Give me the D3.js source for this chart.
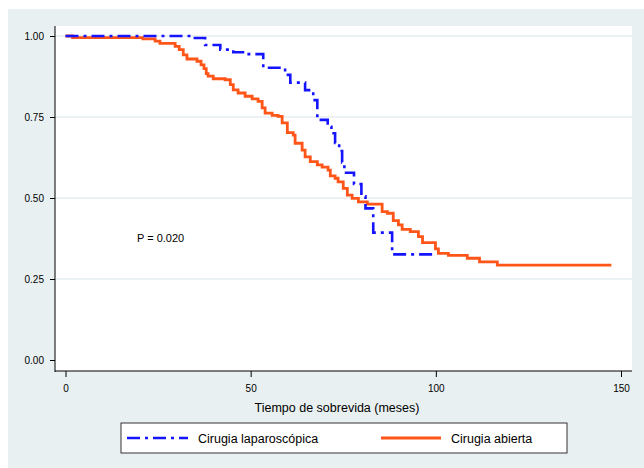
<!DOCTYPE html>
<html>
<head>
<meta charset="utf-8">
<script src="https://cdn.jsdelivr.net/npm/d3@7"></script>
<style>
  body { margin: 0; background: #fff; }
  text { font-family: "Liberation Sans", Arial, sans-serif; fill: #000; }
</style>
</head>
<body>
<svg id="chart" width="644" height="468"></svg>
<script>
// Kaplan-Meier curves (time in months, survival)
var lapTimes = [0, 34.5, 37.7, 41.8, 45.3, 49.1, 53.4, 59.3, 60.7, 64.7, 66.9, 68.0, 70.8, 71.8, 72.8, 73.9, 74.7, 75.3, 77.9, 79.9, 81.0, 83.1, 88.2, 100.0];
var lapSurv  = [1.0, 0.994, 0.972, 0.958, 0.950, 0.944, 0.902, 0.880, 0.856, 0.833, 0.802, 0.741, 0.72, 0.70, 0.67, 0.645, 0.61, 0.578, 0.543, 0.505, 0.468, 0.393, 0.326, 0.326];

var openTimes = [0, 1.9, 20.9, 24.2, 25.5, 29.6, 30.7, 31.8, 32.8, 35.5, 36.6, 37.4, 38.0, 38.5, 39.9, 43.1, 44.5, 45.3, 46.6, 48.5, 50.4, 52.0, 53.1, 53.9, 55.8, 57.4, 58.5, 59.9, 61.5, 62.0, 63.9, 64.7, 66.1, 68.0, 69.3, 70.9, 71.5, 72.8, 73.6, 75.0, 76.1, 77.4, 79.1, 81.5, 85.5, 86.9, 88.5, 89.9, 90.9, 93.1, 95.3, 96.4, 99.9, 100.7, 103.4, 108.5, 111.8, 116.6, 147.4];
var openSurv  = [1.0, 0.995, 0.991, 0.984, 0.977, 0.968, 0.958, 0.942, 0.929, 0.922, 0.911, 0.899, 0.884, 0.876, 0.868, 0.865, 0.850, 0.834, 0.824, 0.814, 0.806, 0.798, 0.778, 0.762, 0.755, 0.752, 0.732, 0.702, 0.694, 0.669, 0.648, 0.627, 0.612, 0.602, 0.595, 0.586, 0.568, 0.561, 0.550, 0.530, 0.509, 0.499, 0.488, 0.481, 0.458, 0.453, 0.430, 0.417, 0.403, 0.396, 0.381, 0.362, 0.343, 0.329, 0.323, 0.314, 0.303, 0.293, 0.293];

var xTicks = [0, 50, 100, 150];
var yTicks = [0, 0.25, 0.5, 0.75, 1];
var gridVals = [0.25, 0.5, 0.75, 1];
var seriesNames = ["Cirugia laparosc\u00f3pica", "Cirugia abierta"];
var pLabel = "P = 0.020";

var blue = "#1414ff", orange = "#ff5519";

var svg = d3.select("#chart");

// outer gray panel
svg.append("rect").attr("x", 8).attr("y", 9).attr("width", 636).attr("height", 459)
    .attr("fill", "#e9f0f1");

// plot region (note: "top" is reserved on window)
var pLeft = 55, pRight = 632, pTop = 26, pBottom = 371;
svg.append("rect").attr("x", pLeft).attr("y", pTop)
    .attr("width", pRight - pLeft).attr("height", pBottom - pTop)
    .attr("fill", "#fff");

var x = d3.scaleLinear().domain([0, 150]).range([65.5, 621]);
var y = d3.scaleLinear().domain([0, 1]).range([360, 36]);

//gridlines
svg.append("g").selectAll("line")
    .data(gridVals).enter().append("line")
    .attr("x1", pLeft + 1).attr("x2", pRight)
    .attr("y1", function(d) { return y(d); })
    .attr("y2", function(d) { return y(d); })
    .attr("stroke", "#e6eef0").attr("stroke-width", 1.6);

// y axis
var yAxis = svg.append("g").attr("transform", "translate(" + pLeft + ",0)")
    .call(d3.axisLeft(y).tickValues(yTicks).tickSize(5).tickPadding(6)
        .tickFormat(d3.format(".2f")));
yAxis.select(".domain").remove();
yAxis.append("line").attr("x1", 0).attr("x2", 0).attr("y1", pTop).attr("y2", pBottom + 1)
    .attr("stroke", "#000");
yAxis.selectAll("text").attr("font-size", 10);

// x axis
var xAxis = svg.append("g").attr("transform", "translate(0," + pBottom + ")")
    .call(d3.axisBottom(x).tickValues(xTicks).tickSize(6).tickPadding(8));
xAxis.select(".domain").remove();
xAxis.append("line").attr("x1", pLeft).attr("x2", pRight).attr("y1", 0).attr("y2", 0)
    .attr("stroke", "#000");
xAxis.selectAll("text").attr("font-size", 10);

svg.append("text").attr("x", 337).attr("y", 412).attr("text-anchor", "middle")
    .attr("font-size", 12.5).text("Tiempo de sobrevida (meses)");

// curves
var line = d3.line()
    .x(function(d) { return x(d[0]); })
    .y(function(d) { return y(d[1]); })
    .curve(d3.curveStepAfter);

var openData = d3.zip(openTimes, openSurv);
var lapData = d3.zip(lapTimes, lapSurv);

svg.append("path").datum(openData).attr("d", line)
    .attr("fill", "none").attr("stroke", orange).attr("stroke-width", 2.8);

svg.append("path").datum(lapData).attr("d", line)
    .attr("fill", "none").attr("stroke", blue).attr("stroke-width", 2.6)
    .attr("stroke-dasharray", "13,5,3,5");

svg.append("text").attr("x", 137).attr("y", 242).attr("font-size", 11).text(pLabel);

// legend
var lg = svg.append("g");
lg.append("rect").attr("x", 121).attr("y", 423).attr("width", 446).attr("height", 30)
    .attr("fill", "#fff").attr("stroke", "#333").attr("stroke-width", 1);
lg.append("line").attr("x1", 127).attr("x2", 188).attr("y1", 438).attr("y2", 438)
    .attr("stroke", blue).attr("stroke-width", 2.6).attr("stroke-dasharray", "13,5,3,5");
lg.append("text").attr("x", 198).attr("y", 442.5).attr("font-size", 12.5).text(seriesNames[0]);
lg.append("line").attr("x1", 381).attr("x2", 441).attr("y1", 438).attr("y2", 438)
    .attr("stroke", orange).attr("stroke-width", 2.8);
lg.append("text").attr("x", 451).attr("y", 442.5).attr("font-size", 12.5).text(seriesNames[1]);
</script>
</body>
</html>
